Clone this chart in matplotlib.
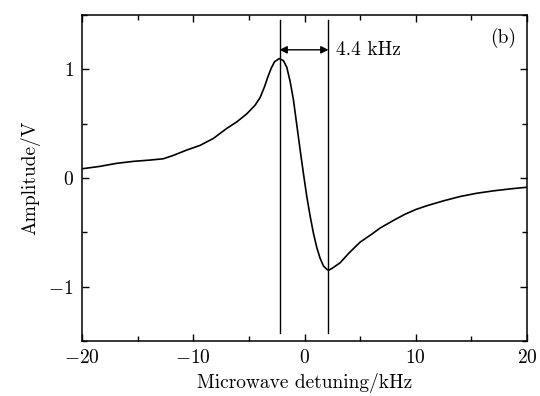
import matplotlib
matplotlib.use('Agg')
import matplotlib.pyplot as plt
from matplotlib.ticker import MultipleLocator

plt.rcParams['font.family'] = 'serif'
plt.rcParams['font.serif'] = ['cmr10']
plt.rcParams['mathtext.fontset'] = 'cm'
plt.rcParams['axes.formatter.use_mathtext'] = True
plt.rcParams['font.size'] = 14

# values
detuning = [-20, -18.4, -16.9, -15.4, -13.9, -12.7, -11.8, -10.6, -9.4, -8.2, -7.0,
            -6.1, -5.2, -4.45, -4.0, -3.6, -3.3, -3.0, -2.7, -2.27, -1.9, -1.6,
            -1.3, -1.0, -0.7, -0.4, -0.1, 0.2, 0.5, 0.8, 1.1, 1.4, 1.7, 2.0, 2.15,
            2.5, 3.2, 4.0, 5.0, 6.0, 6.8, 8.0, 9.0, 10.0, 11.0, 12.5, 14.0, 15.5,
            17.0, 18.5, 20]
amplitude = [0.085, 0.107, 0.135, 0.153, 0.165, 0.177, 0.208, 0.257, 0.30, 0.364,
             0.456, 0.516, 0.59, 0.67, 0.74, 0.84, 0.93, 1.01, 1.07, 1.10, 1.08,
             1.02, 0.89, 0.72, 0.49, 0.26, 0.04, -0.17, -0.35, -0.51, -0.64, -0.74,
             -0.81, -0.84, -0.85, -0.83, -0.78, -0.69, -0.59, -0.52, -0.46, -0.39,
             -0.335, -0.29, -0.255, -0.21, -0.17, -0.14, -0.118, -0.1, -0.085]
marker_lines = [-2.25, 2.15]
width_label = '4.4 kHz'

fig = plt.figure(figsize=(5.4, 3.96), dpi=100)
ax = fig.add_axes([0.152, 0.139, 0.824, 0.823])

ax.plot(detuning, amplitude, color='black', lw=1.2)

for xv in marker_lines:
    ax.plot([xv, xv], [-1.43, 1.45], color='black', lw=1.0)

# double arrow between the two lines
ax.annotate('', xy=(marker_lines[0], 1.18), xytext=(marker_lines[1], 1.18),
            arrowprops=dict(arrowstyle='<|-|>', color='black', lw=1.0,
                            mutation_scale=11, shrinkA=0, shrinkB=0))
ax.text(marker_lines[1] + 0.65, 1.175, width_label, ha='left', va='center')
ax.text(0.975, 0.93, '(b)', transform=ax.transAxes, ha='right', va='center')

ax.set_xlim(-20, 20)
ax.set_ylim(-1.5, 1.5)
ax.xaxis.set_major_locator(MultipleLocator(10))
ax.xaxis.set_minor_locator(MultipleLocator(5))
ax.yaxis.set_major_locator(MultipleLocator(1))
ax.yaxis.set_minor_locator(MultipleLocator(0.5))
ax.tick_params(which='both', direction='in', top=True, right=True)
ax.tick_params(which='major', length=5, width=1, pad=6)
ax.tick_params(which='minor', length=3.5, width=1)
for sp in ax.spines.values():
    sp.set_linewidth(1.1)

ax.set_xlabel('Microwave detuning/kHz', labelpad=4)
ax.set_ylabel('Amplitude/V', labelpad=6)

fig.savefig('out.png', dpi=100)
